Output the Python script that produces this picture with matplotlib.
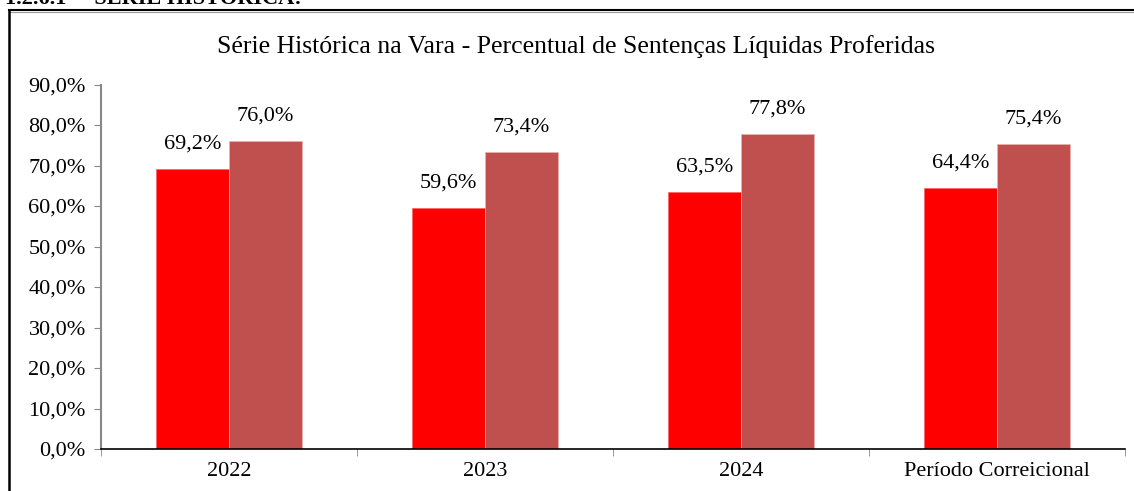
import matplotlib
matplotlib.use("Agg")
import matplotlib.pyplot as plt
from matplotlib.lines import Line2D
import numpy as np

categories = ["2022", "2023", "2024", "Período Correicional"]
serie_vara = [69.2, 59.6, 63.5, 64.4]
serie_ref = [76.0, 73.4, 77.8, 75.4]
yticks = [0, 10, 20, 30, 40, 50, 60, 70, 80, 90]
title = "Série Histórica na Vara - Percentual de Sentenças Líquidas Proferidas"
heading = "1.2.6.1 –  SÉRIE HISTÓRICA:"

W, H = 1134, 491
plt.rcParams['font.family'] = ['Liberation Serif', 'DejaVu Serif']
fig = plt.figure(figsize=(W / 100, H / 100), dpi=100)

x0, x1 = 101, 1125
y0, y1 = 449, 84.5
ax = fig.add_axes([x0 / W, 1 - y0 / H, (x1 - x0) / W, (y0 - y1) / H])

x = np.arange(len(categories))
bw = 0.2857
ax.bar(x - bw / 2, serie_vara, width=bw, color="#FF0000", edgecolor="#FF6060", linewidth=0.5, zorder=2)
ax.bar(x + bw / 2, serie_ref, width=bw, color="#C0504D", edgecolor="#E8B0B0", linewidth=0.5, zorder=2)

fs = 16
def fmt(v):
    return f"{v:.1f}".replace(".", ",") + "%"

for xi, v in zip(x - bw / 2, serie_vara):
    ax.annotate(fmt(v), (xi, v), xytext=(0, 11), textcoords="offset points",
                ha="center", va="bottom", fontsize=fs)
for xi, v in zip(x + bw / 2, serie_ref):
    ax.annotate(fmt(v), (xi, v), xytext=(0, 11), textcoords="offset points",
                ha="center", va="bottom", fontsize=fs)

ax.set_xlim(-0.5, len(categories) - 0.5)
ax.set_ylim(0, 90)
ax.set_yticks(yticks)
ax.set_yticklabels([fmt(v) for v in yticks], fontsize=fs)
ax.set_xticks(x)
ax.set_xticklabels(categories, fontsize=fs)
ax.set_xticks(np.arange(len(categories) + 1) - 0.5, minor=True)
ax.tick_params(axis='x', which='major', length=0, pad=9)
ax.tick_params(axis='x', which='minor', length=5, color="#888888", direction='out')
ax.tick_params(axis='y', length=5, color="#888888", direction='out', pad=6)
for s in ["top", "right"]:
    ax.spines[s].set_visible(False)
ax.spines["left"].set_color("#888888")
ax.spines["left"].set_linewidth(1.5)
ax.spines["bottom"].set_color("black")
ax.spines["bottom"].set_linewidth(1.2)

fig.text(576 / W, 1 - 47 / H, title, ha="center", va="center", fontsize=18.5)

# heading cut off at top, as in the reference
fig.text(5 / W, 1 - 3.5 / H, heading, ha="left", va="baseline", fontsize=16, fontweight="bold")

# frame lines
fig.add_artist(Line2D([9 / W, 1.0], [1 - 10 / H, 1 - 10 / H], transform=fig.transFigure, color="black", linewidth=1.5))
fig.add_artist(Line2D([9 / W, 1.0], [1 - 11.5 / H, 1 - 11.5 / H], transform=fig.transFigure, color="#999999", linewidth=0.8))
fig.add_artist(Line2D([9 / W, 9 / W], [1 - 10 / H, 0], transform=fig.transFigure, color="black", linewidth=1.8))

fig.savefig("out.png", dpi=100)
